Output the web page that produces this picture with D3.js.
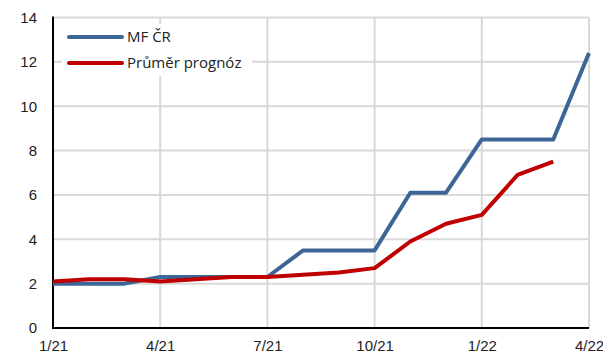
<!DOCTYPE html>
<html>
<head>
<meta charset="utf-8">
<script src="https://cdn.jsdelivr.net/npm/d3@7"></script>
<style>
  html, body { margin: 0; padding: 0; background: #fff; }
  svg { display: block; font-family: "Open Sans", "Liberation Sans", sans-serif; }
</style>
</head>
<body>
<svg id="chart" width="603" height="362"></svg>
<script>
// Months from 1/21 to 4/22 (index 0..15)
const months = ["1/21","2/21","3/21","4/21","5/21","6/21","7/21","8/21","9/21","10/21","11/21","12/21","1/22","2/22","3/22","4/22"];
const mfCR = [2.0, 2.0, 2.0, 2.3, 2.3, 2.3, 2.3, 3.5, 3.5, 3.5, 6.1, 6.1, 8.5, 8.5, 8.5, 12.4];
const prumerPrognoz = [2.1, 2.2, 2.2, 2.1, 2.2, 2.3, 2.3, 2.4, 2.5, 2.7, 3.9, 4.7, 5.1, 6.9, 7.5];
const xTickLabels = ["1/21","4/21","7/21","10/21","1/22","4/22"];
const yTicks = [0, 2, 4, 6, 8, 10, 12, 14];
const seriesNames = ["MF ČR", "Průměr prognóz"];
const seriesColors = ["#3d6595", "#c00000"];

const svg = d3.select("#chart");
const margin = { left: 53, right: 14, top: 17.5, bottom: 34 };
const W = 603, H = 362;

const x = d3.scaleLinear().domain([0, months.length - 1]).range([margin.left, W - margin.right]);
const y = d3.scaleLinear().domain([0, 14]).range([H - margin.bottom, margin.top]);

const xTickIdx = xTickLabels.map(l => months.indexOf(l));

// gridlines
const grid = svg.append("g");
grid.selectAll("line.h").data(yTicks.filter(d => d > 0)).join("line")
  .attr("x1", margin.left).attr("x2", W - margin.right)
  .attr("y1", d => y(d)).attr("y2", d => y(d))
  .attr("stroke", "#d9d9d9").attr("stroke-width", 2);
grid.selectAll("line.v").data(xTickIdx.filter(d => d > 0)).join("line")
  .attr("x1", d => x(d)).attr("x2", d => x(d))
  .attr("y1", y(0)).attr("y2", y(14))
  .attr("stroke", "#d9d9d9").attr("stroke-width", 2);

// axes
const yAxis = d3.axisLeft(y).tickValues(yTicks).tickSize(0).tickPadding(16);
const gy = svg.append("g").attr("transform", `translate(${margin.left},0)`).call(yAxis);
gy.select(".domain").remove();
gy.selectAll("text").attr("font-size", 15).attr("fill", "#222");

const xAxis = d3.axisBottom(x).tickValues(xTickIdx).tickFormat(i => months[i]).tickSize(0).tickPadding(12);
const gx = svg.append("g").attr("transform", `translate(0,${y(0)})`).call(xAxis);
gx.select(".domain").remove();
gx.selectAll("text").attr("font-size", 15).attr("fill", "#222");

svg.append("line").attr("x1", margin.left).attr("x2", margin.left)
  .attr("y1", y(14) - 1).attr("y2", y(0) + 1).attr("stroke", "#000").attr("stroke-width", 2);
svg.append("line").attr("x1", margin.left - 1).attr("x2", W - margin.right)
  .attr("y1", y(0)).attr("y2", y(0)).attr("stroke", "#000").attr("stroke-width", 2);

// series lines
const line = d3.line().x((d, i) => x(i)).y(d => y(d));
[mfCR, prumerPrognoz].forEach((s, k) => {
  svg.append("path").datum(s).attr("d", line)
    .attr("fill", "none").attr("stroke", seriesColors[k])
    .attr("stroke-width", 4).attr("stroke-linejoin", "round");
});

// legend
const lg = svg.append("g");
lg.append("rect").attr("x", 62).attr("y", 24).attr("width", 190).attr("height", 52).attr("fill", "#fff");
seriesNames.forEach((n, k) => {
  const yy = 37 + k * 26;
  lg.append("line").attr("x1", 69).attr("x2", 122).attr("y1", yy).attr("y2", yy)
    .attr("stroke", seriesColors[k]).attr("stroke-width", 4).attr("stroke-linecap", "round");
  lg.append("text").attr("x", 127).attr("y", yy + 5).attr("font-size", 15).attr("fill", "#222").text(n);
});
</script>
</body>
</html>
